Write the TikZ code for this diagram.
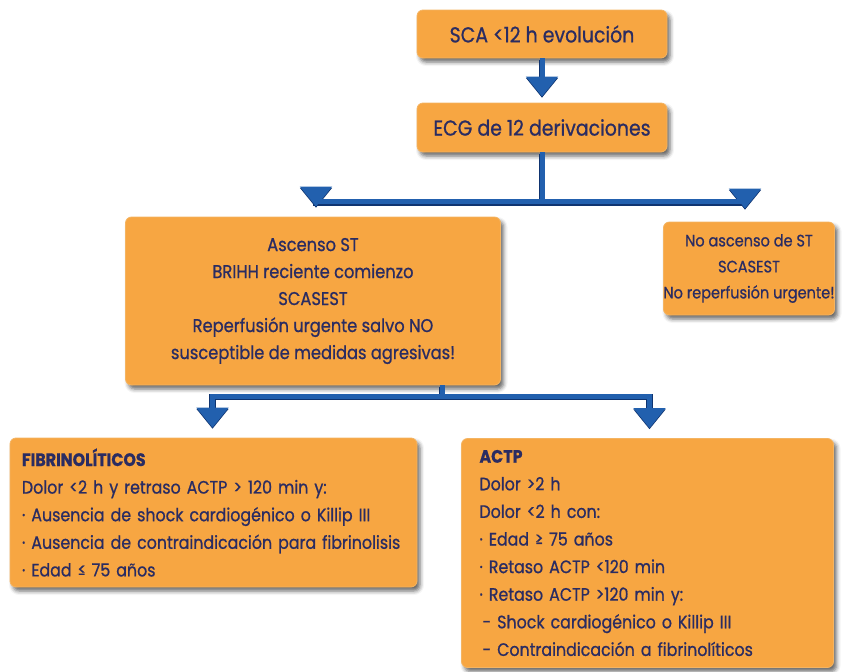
\documentclass[tikz,border=0pt]{standalone}
\usepackage{fontspec}
\setmainfont[FakeStretch=0.88, FakeBold=0.8]{Poppins}
\usetikzlibrary{arrows.meta,shadows.blur,calc}
\definecolor{boxfill}{HTML}{F7A642}
\definecolor{boxedge}{HTML}{F4B462}
\definecolor{txt}{HTML}{2A2C62}
\definecolor{flow}{HTML}{2260AE}
\definecolor{flowdark}{HTML}{0F3470}
\tikzset{
  card/.style={draw=boxedge, line width=0.8pt, fill=boxfill, rounded corners=6pt,
    text=txt, inner sep=0pt,
    blur shadow={shadow xshift=3pt, shadow yshift=-4pt, shadow opacity=60, shadow blur radius=4pt}},
  headline/.style={card, align=center, font=\fontsize{21.5}{26}\selectfont},
  centered/.style={card, align=center, font=\fontsize{18.5}{27}\selectfont},
  listed/.style={card, align=left, font=\fontsize{18}{27.6}\selectfont},
  link/.style={draw=flow, line width=5pt, line join=miter,
    preaction={draw=flowdark, line width=6.5pt, transform canvas={yshift=-1.2pt}}},
  flowarrow/.style={link, -{Triangle[width=31pt,length=20pt]}}
}
\begin{document}
\begin{tikzpicture}[x=1pt,y=-1pt]
\useasboundingbox (0,0) rectangle (865,672);

% boxes
\node[headline, minimum width=250pt, minimum height=48pt] (sca) at (542,34) {SCA <12 h evolución};
\node[headline, minimum width=250pt, minimum height=49pt] (ecg) at (542,127.5) {ECG de 12 derivaciones};
\node[centered, minimum width=375pt, minimum height=168pt] (stm) at (313,301)
  {Ascenso ST\\BRIHH reciente comienzo\\SCASEST\\Reperfusión urgente salvo NO\\susceptible de medidas agresivas!};
\node[centered, font=\fontsize{16.5}{26}\selectfont, minimum width=171pt, minimum height=93pt] (nostm) at (749,268.5)
  {No ascenso de ST\\SCASEST\\No reperfusión urgente!};
\node[listed, minimum width=407pt, minimum height=149pt, text width=383pt] (fib) at (213.5,512.5)
  {\textbf{FIBRINOLÍTICOS}\\
   \mbox{Dolor <2 h y retraso ACTP > 120 min y:}\\
   \mbox{· Ausencia de shock cardiogénico o Killip III}\\
   \mbox{· Ausencia de contraindicación para fibrinolisis}\\
   · Edad ≤ 75 años};
\node[listed, minimum width=372pt, minimum height=229pt, text width=336pt] (actp) at (647.5,553)
  {\textbf{ACTP}\\
   Dolor >2 h\\
   Dolor <2 h con:\\
   · Edad ≥ 75 años\\
   · Retaso ACTP <120 min\\
   · Retaso ACTP >120 min y:\\
   \hspace*{3pt}- Shock cardiogénico o Killip III\\
   \hspace*{3pt}- Contraindicación a fibrinolíticos};

% junction points of the branching connectors
\coordinate (j1) at ($(ecg.south)+(0,49)$);
\coordinate (s2) at (442,0);
\coordinate (j2) at (s2 |- 0,396);

% connectors
\draw[flowarrow, shorten >=6pt] (sca) -- (ecg);
\draw[link] (ecg.south) -- (j1);
\draw[flowarrow, shorten >=10pt] (j1) -| ($(stm.north)+(3,0)$);
\draw[flowarrow, shorten >=13pt] (j1) -| ($(nostm.north)+(-4,0)$);
\draw[link] (stm.south -| s2) -- (j2);
\draw[flowarrow, shorten >=10pt] (j2) -| ($(fib.north)+(-1,0)$);
\draw[flowarrow, shorten >=10pt] (j2) -| ($(actp.north)+(2,0)$);
\end{tikzpicture}
\end{document}
